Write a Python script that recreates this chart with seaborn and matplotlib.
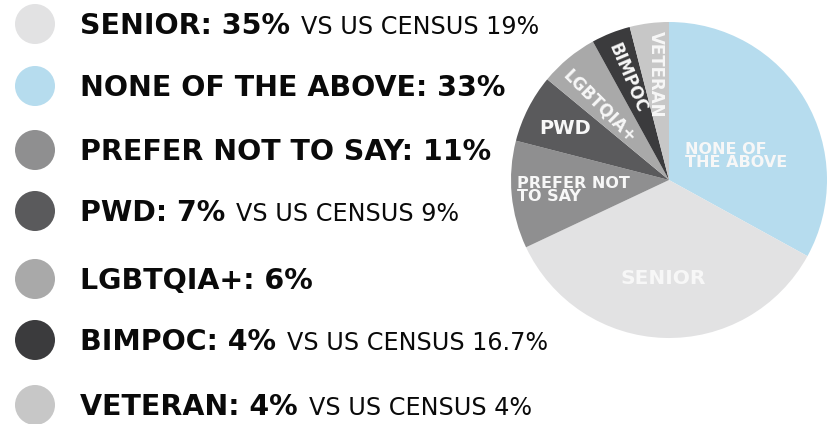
import matplotlib
matplotlib.use("Agg")
import matplotlib.pyplot as plt
import seaborn as sns

# data
categories = ["SENIOR", "NONE OF THE ABOVE", "PREFER NOT TO SAY", "PWD",
              "LGBTQIA+", "BIMPOC", "VETERAN"]
shares = [35, 33, 11, 7, 6, 4, 4]
census = ["19%", None, None, "9%", None, "16.7%", "4%"]
colors = ["#e2e2e3", "#b6dcee", "#8f8f90", "#5a5a5c", "#a9a9a9", "#3b3b3d", "#c7c7c7"]

# pie goes clockwise from 12 o'clock, starting with NONE OF THE ABOVE
pie_order = ["NONE OF THE ABOVE", "SENIOR", "PREFER NOT TO SAY", "PWD",
             "LGBTQIA+", "BIMPOC", "VETERAN"]

# legend row centres (pixels from top)
row_y = [24, 86, 150, 211, 279, 340, 405]

sns.set_theme(style="white")
plt.rcParams["font.family"] = ["DejaVu Sans"]

fig = plt.figure(figsize=(8.31, 4.24), dpi=100)
fig.patch.set_facecolor("white")

# ---- pie ----
cx, cy, r = 669, 180, 158
W, H = 831, 424
pax = fig.add_axes([(cx - r) / W, (H - cy - r) / H, 2 * r / W, 2 * r / H])
idx = [categories.index(c) for c in pie_order]
pax.pie([shares[i] for i in idx], colors=[colors[i] for i in idx],
        startangle=90, counterclock=False,
        wedgeprops=dict(linewidth=0))
pax.set_xlim(-1, 1)
pax.set_ylim(-1, 1)
pax.set_aspect("equal")
pax.axis("off")

# ---- overlay in pixel coords ----
ax = fig.add_axes([0, 0, 1, 1])
ax.set_xlim(0, W)
ax.set_ylim(H, 0)
ax.axis("off")
ax.patch.set_alpha(0)

sns.scatterplot(x=[35] * len(categories), y=row_y, hue=categories,
                palette=colors, s=830, linewidth=0, legend=False, ax=ax)

fig.canvas.draw()
renderer = fig.canvas.get_renderer()
for cat, sh, cen, y in zip(categories, shares, census, row_y):
    t = ax.text(80, y + 10, f"{cat}: {sh}%", fontsize=20.5, fontweight="bold",
                color="#0a0a0a", va="baseline", ha="left")
    if cen is not None:
        bb = t.get_window_extent(renderer=renderer)
        x_end = ax.transData.inverted().transform((bb.x1, bb.y0))[0]
        ax.text(x_end + 11, y + 10, f"VS US CENSUS {cen}", fontsize=17.2,
                color="#0a0a0a", va="baseline", ha="left")

# labels inside the pie
lab = dict(color="#f7f7f7", fontweight="bold")
ax.text(685, 156, "NONE OF\nTHE ABOVE", fontsize=11.5, ha="left", va="center",
        linespacing=0.85, **lab)
ax.text(663, 278, "SENIOR", fontsize=14.5, ha="center", va="center", **lab)
ax.text(517, 190, "PREFER NOT\nTO SAY", fontsize=11.5, ha="left", va="center",
        linespacing=0.85, **lab)
ax.text(565, 129, "PWD", fontsize=14, ha="center", va="center", **lab)
ax.text(600, 106, "LGBTQIA+", fontsize=12, ha="center", va="center",
        rotation=-45, rotation_mode="anchor", **lab)
ax.text(628, 78, "BIMPOC", fontsize=12, ha="center", va="center",
        rotation=-67, rotation_mode="anchor", **lab)
ax.text(656, 74, "VETERAN", fontsize=12, ha="center", va="center",
        rotation=-90, rotation_mode="anchor", **lab)

fig.savefig("out.png", dpi=100, facecolor="white")
